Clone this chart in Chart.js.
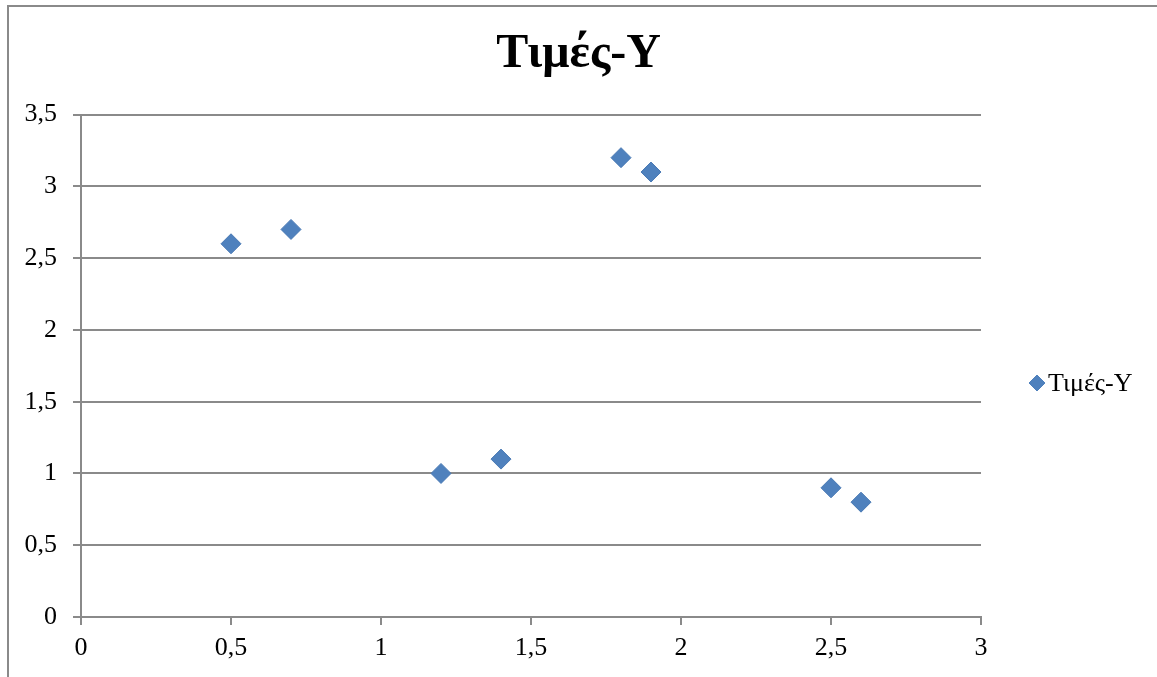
<!DOCTYPE html>
<html>
<head>
<meta charset="utf-8">
<script src="https://cdn.jsdelivr.net/npm/chart.js@4/dist/chart.umd.min.js"></script>
<style>
  html, body { margin: 0; padding: 0; background: #fff; }
  #wrap { width: 1157px; height: 677px; }
</style>
</head>
<body>
<div id="wrap"><canvas id="scatter"></canvas></div>
<script>
// X / Y pairs of the series
const seriesName = "Τιμές-Y";
const xValues = [0.5, 0.7, 1.2, 1.4, 1.8, 1.9, 2.5, 2.6];
const yValues = [2.6, 2.7, 1.0, 1.1, 3.2, 3.1, 0.9, 0.8];

// axis ranges
const xTicks = [0, 0.5, 1, 1.5, 2, 2.5, 3];
const yTicks = [0, 0.5, 1, 1.5, 2, 2.5, 3, 3.5];

const FONT = '"Liberation Serif", "Times New Roman", serif';
const BLUE = "#4f81bd";
const GREY = "#8a8a8a";

const points = xValues.map((x, i) => ({ x: x, y: yValues[i] }));
const comma = v => String(v).replace(".", ",");

// white background plus the outer frame lines
const framePlugin = {
  id: "frame",
  beforeDraw(chart) {
    const ctx = chart.ctx;
    ctx.save();
    ctx.fillStyle = "#fff";
    ctx.fillRect(0, 0, chart.width, chart.height);
    ctx.strokeStyle = GREY;
    ctx.lineWidth = 2;
    ctx.beginPath();
    ctx.moveTo(8, chart.height);
    ctx.lineTo(8, 6);
    ctx.lineTo(chart.width, 6);
    ctx.stroke();
    ctx.restore();
  }
};

// legend in the empty column right of the plot
const sideLegend = {
  id: "sideLegend",
  afterDraw(chart) {
    const ctx = chart.ctx;
    const y = 383;
    ctx.save();
    ctx.fillStyle = BLUE;
    ctx.strokeStyle = BLUE;
    ctx.lineWidth = 1;
    Chart.helpers.drawPoint(ctx, { pointStyle: "rectRot", radius: 8, borderWidth: 1 }, 1037, y);
    ctx.fillStyle = "#000";
    ctx.font = "26px " + FONT;
    ctx.textBaseline = "middle";
    ctx.textAlign = "left";
    ctx.fillText(chart.data.datasets[0].label, 1048, y + 1);
    ctx.restore();
  }
};

new Chart(document.getElementById("scatter"), {
  type: "scatter",
  data: {
    datasets: [{
      label: seriesName,
      data: points,
      pointStyle: "rectRot",
      pointRadius: 10,
      pointHoverRadius: 10,
      backgroundColor: BLUE,
      borderColor: "#4a7ab5",
      borderWidth: 1
    }]
  },
  options: {
    responsive: true,
    maintainAspectRatio: false,
    animation: false,
    layout: { padding: 0 },
    plugins: {
      legend: { display: false },
      tooltip: { enabled: false },
      title: {
        display: true,
        text: seriesName,
        color: "#000",
        font: { family: FONT, size: 48, weight: "bold", lineHeight: 1.2 },
        padding: { top: 26, bottom: 31 }
      }
    },
    scales: {
      x: {
        type: "linear",
        min: 0,
        max: 3,
        afterBuildTicks: s => { s.ticks = xTicks.map(v => ({ value: v })); },
        afterFit: s => { s.height = 60; },
        ticks: {
          color: "#000",
          padding: 8,
          maxRotation: 0,
          font: { family: FONT, size: 26 },
          callback: comma
        },
        grid: { drawOnChartArea: false, drawTicks: true, tickLength: 8, color: GREY, lineWidth: 2 },
        border: { display: true, color: GREY, width: 2 }
      },
      y: {
        type: "linear",
        min: 0,
        max: 3.5,
        afterBuildTicks: s => { s.ticks = yTicks.map(v => ({ value: v })); },
        afterFit: s => { s.width = 81; },
        ticks: {
          color: "#000",
          padding: 16,
          font: { family: FONT, size: 26 },
          callback: comma
        },
        grid: { color: GREY, lineWidth: 2, tickLength: 8, drawTicks: true },
        border: { display: true, color: GREY, width: 2 }
      },
      // empty right-hand column that holds the legend
      side: {
        type: "linear",
        position: "right",
        display: true,
        afterFit: s => { s.width = 176; },
        ticks: { display: false },
        grid: { display: false },
        border: { display: false }
      }
    }
  },
  plugins: [framePlugin, sideLegend]
});
</script>
</body>
</html>
